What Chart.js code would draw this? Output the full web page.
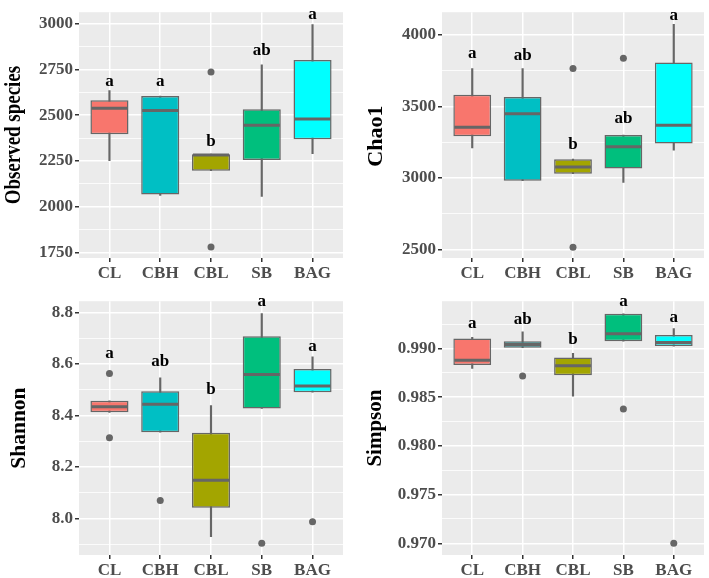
<!DOCTYPE html>
<html>
<head>
<meta charset="utf-8">
<script src="https://cdn.jsdelivr.net/npm/chart.js@4.4.1/dist/chart.umd.min.js"></script>
<style>
  html, body { margin: 0; padding: 0; background: #fff; }
  #wrap { position: relative; width: 709px; height: 578px; }
  .panel { position: absolute; }
</style>
</head>
<body>
<div id="wrap">
  <canvas class="panel" id="c-obs"     width="354" height="289" style="left:0;top:0"></canvas>
  <canvas class="panel" id="c-chao"    width="355" height="289" style="left:354px;top:0"></canvas>
  <canvas class="panel" id="c-shannon" width="354" height="289" style="left:0;top:289px"></canvas>
  <canvas class="panel" id="c-simpson" width="355" height="289" style="left:354px;top:289px"></canvas>
</div>
<script>
// groups + fill colours
const groups = ['CL', 'CBH', 'CBL', 'SB', 'BAG'];
const fills  = ['#F8766D', '#00BFC4', '#A3A500', '#00BF7D', '#00FFFF'];

// Observed species
const obsLow     = [2252, 2062, 2197, 2056, 2290];
const obsQ1      = [2396, 2067, 2197, 2255, 2368];
const obsMed     = [2537, 2525, 2282, 2445, 2479];
const obsQ3      = [2581, 2604, 2287, 2532, 2801];
const obsHigh    = [2634, 2604, 2287, 2775, 2995];
const obsOutX    = [2, 2];
const obsOutY    = [2736, 1780];
const obsLetters = ['a', 'a', 'b', 'ab', 'a'];
const obsLetterY = [2660, 2660, 2329, 2827, 3025];
const obsTicks   = [1750, 2000, 2250, 2500, 2750, 3000];
const obsLabels  = ['1750', '2000', '2250', '2500', '2750', '3000'];
const obsMinor   = [1875, 2125, 2375, 2625, 2875];

// Chao1
const chaoLow     = [3209, 2980, 3029, 2968, 3194];
const chaoQ1      = [3291, 2980, 3029, 3065, 3241];
const chaoMed     = [3354, 3448, 3077, 3218, 3367];
const chaoQ3      = [3581, 3565, 3131, 3300, 3806];
const chaoHigh    = [3764, 3764, 3131, 3300, 4072];
const chaoOutX    = [2, 2, 3];
const chaoOutY    = [3764, 2516, 3836];
const chaoLetters = ['a', 'ab', 'b', 'ab', 'a'];
const chaoLetterY = [3836, 3824, 3200, 3385, 4101];
const chaoTicks   = [2500, 3000, 3500, 4000];
const chaoLabels  = ['2500', '3000', '3500', '4000'];
const chaoMinor   = [2750, 3250, 3750];

// Shannon
const shLow     = [8.412, 8.335, 7.929, 8.427, 8.490];
const shQ1      = [8.412, 8.335, 8.041, 8.427, 8.490];
const shMed     = [8.434, 8.443, 8.148, 8.559, 8.514];
const shQ3      = [8.457, 8.494, 8.333, 8.708, 8.580];
const shHigh    = [8.457, 8.546, 8.438, 8.796, 8.628];
const shOutX    = [0, 0, 1, 3, 4];
const shOutY    = [8.563, 8.313, 8.069, 7.903, 7.987];
const shLetters = ['a', 'ab', 'b', 'a', 'a'];
const shLetterY = [8.624, 8.593, 8.482, 8.825, 8.651];
const shTicks   = [8.0, 8.2, 8.4, 8.6, 8.8];
const shLabels  = ['8.0', '8.2', '8.4', '8.6', '8.8'];
const shMinor   = [7.9, 8.1, 8.3, 8.5, 8.7];

// Simpson
const simLow     = [0.98795, 0.99007, 0.98511, 0.99075, 0.99024];
const simQ1      = [0.98829, 0.99007, 0.98726, 0.99075, 0.99024];
const simMed     = [0.98880, 0.99041, 0.98822, 0.99150, 0.99062];
const simQ3      = [0.99103, 0.99075, 0.98908, 0.99356, 0.99137];
const simHigh    = [0.99113, 0.99171, 0.98949, 0.99356, 0.99205];
const simOutX    = [1, 3, 4];
const simOutY    = [0.98716, 0.98378, 0.97001];
const simLetters = ['a', 'ab', 'b', 'a', 'a'];
const simLetterY = [0.99212, 0.99250, 0.99041, 0.99434, 0.99274];
const simTicks   = [0.970, 0.975, 0.980, 0.985, 0.990];
const simLabels  = ['0.970', '0.975', '0.980', '0.985', '0.990'];
const simMinor   = [0.9725, 0.9775, 0.9825, 0.9875, 0.9925];

const SERIF = "'Liberation Serif', 'Times New Roman', serif";
const LINE  = '#666666';

// grey panel background
const panelBg = {
  id: 'panelBg',
  beforeDraw(chart) {
    const a = chart.chartArea, c = chart.ctx;
    c.save();
    c.fillStyle = '#EBEBEB';
    c.fillRect(a.left, a.top, a.right - a.left, a.bottom - a.top);
    c.restore();
  }
};

// medians + significance letters
const boxExtras = {
  id: 'boxExtras',
  afterDatasetsDraw(chart) {
    const cfg = chart.options.plugins.boxExtras;
    const c = chart.ctx;
    const xs = chart.scales.x, ys = chart.scales.y;
    const meta = chart.getDatasetMeta(1);
    c.save();
    c.strokeStyle = LINE;
    c.lineWidth = 3;
    meta.data.forEach((el, i) => {
      const y = ys.getPixelForValue(cfg.med[i]);
      c.beginPath();
      c.moveTo(el.x - el.width / 2 + 1, y);
      c.lineTo(el.x + el.width / 2 - 1, y);
      c.stroke();
    });
    c.fillStyle = '#000';
    c.font = 'bold 17px ' + SERIF;
    c.textAlign = 'center';
    c.textBaseline = 'alphabetic';
    cfg.letters.forEach((t, i) => {
      c.fillText(t, xs.getPixelForValue(i), ys.getPixelForValue(cfg.letterY[i]));
    });
    c.restore();
  }
};

// rotated y title (some are a bit squeezed in the original)
const yTitle = {
  id: 'yTitle',
  afterDraw(chart) {
    const t = chart.options.plugins.yTitle;
    const a = chart.chartArea, c = chart.ctx;
    c.save();
    c.translate(t.x, (a.top + a.bottom) / 2 + (t.dy || 0));
    c.rotate(-Math.PI / 2);
    c.scale(t.squeeze, 1);
    c.fillStyle = '#000';
    c.font = 'bold ' + t.size + 'px ' + SERIF;
    c.textAlign = 'center';
    c.textBaseline = 'alphabetic';
    c.fillText(t.text, 0, 0);
    c.restore();
  }
};

function makePanel(id, p) {
  const ctx = document.getElementById(id).getContext('2d');
  const allTicks = p.ticks.concat(p.minor).sort((a, b) => a - b);
  const isMajor = v => p.ticks.indexOf(v) >= 0;

  return new Chart(ctx, {
    type: 'bar',
    data: {
      datasets: [{
        // whiskers
        data: groups.map((g, i) => ({ x: i, y: [p.low[i], p.high[i]] })),
        backgroundColor: LINE,
        barThickness: 1.5,
        grouped: false,
        order: 3
      }, {
        // boxes
        data: groups.map((g, i) => ({ x: i, y: [p.q1[i], p.q3[i]] })),
        backgroundColor: fills,
        borderColor: LINE,
        borderWidth: 1.5,
        borderSkipped: false,
        categoryPercentage: 0.75,
        barPercentage: 1,
        grouped: false,
        order: 2
      }, {
        // outliers
        type: 'line',
        showLine: false,
        data: p.outX.map((x, k) => ({ x, y: p.outY[k] })),
        pointRadius: 3.5,
        pointBackgroundColor: LINE,
        pointBorderWidth: 0,
        order: 1
      }]
    },
    options: {
      responsive: false,
      animation: false,
      events: [],
      layout: { padding: { top: p.padTop, right: p.padRight, left: 0, bottom: 0 } },
      plugins: {
        legend: { display: false },
        tooltip: { enabled: false },
        boxExtras: { med: p.med, letters: p.letters, letterY: p.letterY },
        yTitle: { text: p.title, size: p.titleSize, squeeze: p.squeeze, x: p.titleX, dy: p.titleDy }
      },
      scales: {
        x: {
          type: 'linear',
          min: -0.6,
          max: 4.6,
          offset: false,
          afterBuildTicks: s => { s.ticks = groups.map((g, i) => ({ value: i })); },
          afterFit: s => { s.height = p.xHeight; },
          ticks: {
            callback: v => groups[v],
            color: '#4D4D4D',
            font: { family: SERIF, size: 17, weight: 'bold' },
            padding: 1,
            autoSkip: false,
            maxRotation: 0
          },
          grid: { offset: false, color: '#fff', lineWidth: 1.5, tickLength: 4, tickColor: '#333' },
          border: { display: false }
        },
        y: {
          min: p.min,
          max: p.max,
          afterBuildTicks: s => { s.ticks = allTicks.map(v => ({ value: v })); },
          afterFit: s => { s.width = p.yWidth; },
          ticks: {
            callback: v => { const k = p.ticks.indexOf(v); return k < 0 ? '' : p.labels[k]; },
            color: '#4D4D4D',
            font: { family: SERIF, size: 17, weight: 'bold' },
            padding: 2,
            autoSkip: false
          },
          grid: {
            color: '#fff',
            lineWidth: c => isMajor(c.tick.value) ? 1.5 : 0.8,
            tickLength: 4,
            tickColor: c => isMajor(c.tick.value) ? '#333' : 'rgba(0,0,0,0)'
          },
          border: { display: false }
        }
      }
    },
    plugins: [panelBg, boxExtras, yTitle]
  });
}

document.addEventListener('DOMContentLoaded', () => {
  makePanel('c-obs', {
    title: 'Observed species', low: obsLow, q1: obsQ1, med: obsMed, q3: obsQ3, high: obsHigh,
    outX: obsOutX, outY: obsOutY, letters: obsLetters, letterY: obsLetterY,
    ticks: obsTicks, labels: obsLabels, minor: obsMinor,
    min: 1720, max: 3062, yWidth: 79, padTop: 4, padRight: 11, xHeight: 31,
    titleSize: 24, squeeze: 0.79, titleX: 20, titleDy: 0
  });
  makePanel('c-chao', {
    title: 'Chao1', low: chaoLow, q1: chaoQ1, med: chaoMed, q3: chaoQ3, high: chaoHigh,
    outX: chaoOutX, outY: chaoOutY, letters: chaoLetters, letterY: chaoLetterY,
    ticks: chaoTicks, labels: chaoLabels, minor: chaoMinor,
    min: 2441, max: 4157, yWidth: 88, padTop: 4, padRight: 5, xHeight: 31,
    titleSize: 22, squeeze: 1, titleX: 28, titleDy: 1
  });
  makePanel('c-shannon', {
    title: 'Shannon', low: shLow, q1: shQ1, med: shMed, q3: shQ3, high: shHigh,
    outX: shOutX, outY: shOutY, letters: shLetters, letterY: shLetterY,
    ticks: shTicks, labels: shLabels, minor: shMinor,
    min: 7.8575, max: 8.844, yWidth: 79, padTop: 12, padRight: 11, xHeight: 23,
    titleSize: 21.5, squeeze: 1, titleX: 25, titleDy: 0
  });
  makePanel('c-simpson', {
    title: 'Simpson', low: simLow, q1: simQ1, med: simMed, q3: simQ3, high: simHigh,
    outX: simOutX, outY: simOutY, letters: simLetters, letterY: simLetterY,
    ticks: simTicks, labels: simLabels, minor: simMinor,
    min: 0.9688, max: 0.99485, yWidth: 88, padTop: 12, padRight: 5, xHeight: 23,
    titleSize: 21, squeeze: 1, titleX: 27, titleDy: 0
  });
});
</script>
</body>
</html>
